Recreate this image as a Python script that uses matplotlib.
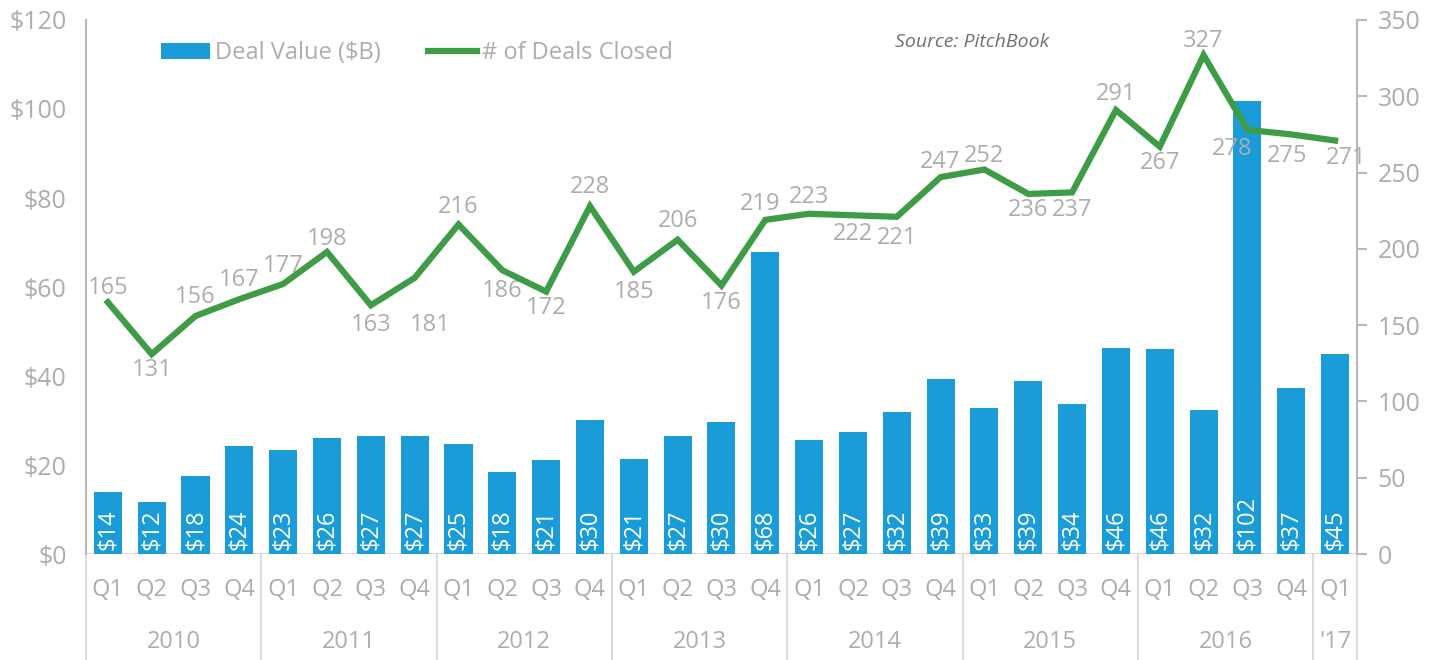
import matplotlib.pyplot as plt
import numpy as np

quarters = ['Q1', 'Q2', 'Q3', 'Q4'] * 7 + ['Q1']
years = ['2010', '2011', '2012', '2013', '2014', '2015', '2016', "'17"]
year_sizes = [4, 4, 4, 4, 4, 4, 4, 1]
deal_value = [13.9, 11.7, 17.5, 24.3, 23.4, 26.1, 26.6, 26.6, 24.7, 18.4, 21.1, 30.1,
              21.4, 26.6, 29.7, 67.9, 25.6, 27.4, 31.9, 39.3, 32.8, 38.9, 33.7, 46.4,
              46.1, 32.4, 101.8, 37.3, 44.9]
deals_closed = [165, 131, 156, 167, 177, 198, 163, 181, 216, 186, 172, 228,
                185, 206, 176, 219, 223, 222, 221, 247, 252, 236, 237, 291,
                267, 327, 278, 275, 271]

# where each line label sits relative to its point (pixels, x right / y up)
offsets = [(0, 14), (0, -16), (0, 19), (0, 19), (0, 18), (0, 13), (0, -20), (16, -47),
           (0, 17), (0, -21), (0, -16), (0, 19), (0, -20), (0, 19), (0, -18), (-5, 16),
           (0, 17), (0, -19), (0, -21), (0, 15), (0, 14), (0, -16), (0, -18), (0, 16),
           (0, -16), (0, 14), (-15, -19), (-4, -22), (11, -17)]

grey = '#adadad'
blue = '#1a9cd8'
green = '#3f9c46'
font = 'Open Sans'

fig = plt.figure(figsize=(14.47, 6.6), dpi=100)
ax = fig.add_axes([0.0594, 0.1606, 0.8784, 0.8091])
ax2 = ax.twinx()

x = np.arange(len(deal_value))
bars = ax.bar(x, deal_value, width=0.64, color=blue, zorder=2, label='Deal Value ($B)')
for xi, v in zip(x, deal_value):
    ax.text(xi, 1.0, '$%d' % round(v), rotation=90, ha='center', va='bottom',
            color='white', fontsize=17, family=font, zorder=3)

line, = ax2.plot(x, deals_closed, color=green, lw=4.5, solid_joinstyle='miter',
                 label='# of Deals Closed', zorder=4)
for xi, v, off in zip(x, deals_closed, offsets):
    ax2.annotate(str(v), (xi, v), xytext=off, textcoords='offset pixels',
                 ha='center', va='center', color=grey, fontsize=17, family=font)

ax.set_xlim(-0.5, len(x) - 0.5)
ax.set_ylim(0, 120)
ax.set_yticks(range(0, 121, 20))
ax.set_yticklabels(['$%d' % t for t in range(0, 121, 20)])
ax2.set_ylim(0, 350)
ax2.set_yticks(range(0, 351, 50))

for a in (ax, ax2):
    for s in a.spines.values():
        s.set_visible(False)
ax.spines['left'].set_visible(True)
ax.spines['left'].set_color('#b8b8be')
ax.spines['left'].set_linewidth(1.5)
ax2.spines['right'].set_visible(True)
ax2.spines['right'].set_color('#b8b8be')
ax2.spines['right'].set_linewidth(1.5)
ax.tick_params(axis='y', length=0, pad=14, labelsize=18, labelcolor=grey)
ax2.tick_params(axis='y', length=7, width=1.5, color='#b8b8be', pad=8, labelsize=18,
                labelcolor=grey)
for lab in ax.get_yticklabels() + ax2.get_yticklabels():
    lab.set_family(font)

ax.set_xticks([])
ax.axhline(0, color='#dcdcdc', lw=1.5, zorder=1)

# two level category axis
trans = ax.get_xaxis_transform()
for xi, q in zip(x, quarters):
    ax.text(xi, -0.068, q, transform=trans, ha='center', va='center', color=grey,
            fontsize=17, family=font)
start = 0
bounds = [-0.5]
for yr, n in zip(years, year_sizes):
    ax.text(start + (n - 1) / 2, -0.165, yr, transform=trans, ha='center', va='center',
            color=grey, fontsize=17, family=font)
    start += n
    bounds.append(start - 0.5)
for b in bounds:
    ax.plot([b, b], [0, -0.2], transform=trans, color='#dcdcdc', lw=1.5, clip_on=False)

leg = ax.legend([bars, line], ['Deal Value ($B)', '# of Deals Closed'], loc='upper left',
                bbox_to_anchor=(0.042, 1.0), ncol=2, frameon=False, fontsize=17,
                handlelength=2.1, handleheight=0.7, columnspacing=2.0,
                handletextpad=0.2)
for t in leg.get_texts():
    t.set_color(grey)
    t.set_family(font)

fig.text(0.672, 0.937, 'Source: PitchBook', style='italic', color='#707070', fontsize=14,
         family=font, ha='center', va='center')

fig.savefig('out.png', dpi=100)
